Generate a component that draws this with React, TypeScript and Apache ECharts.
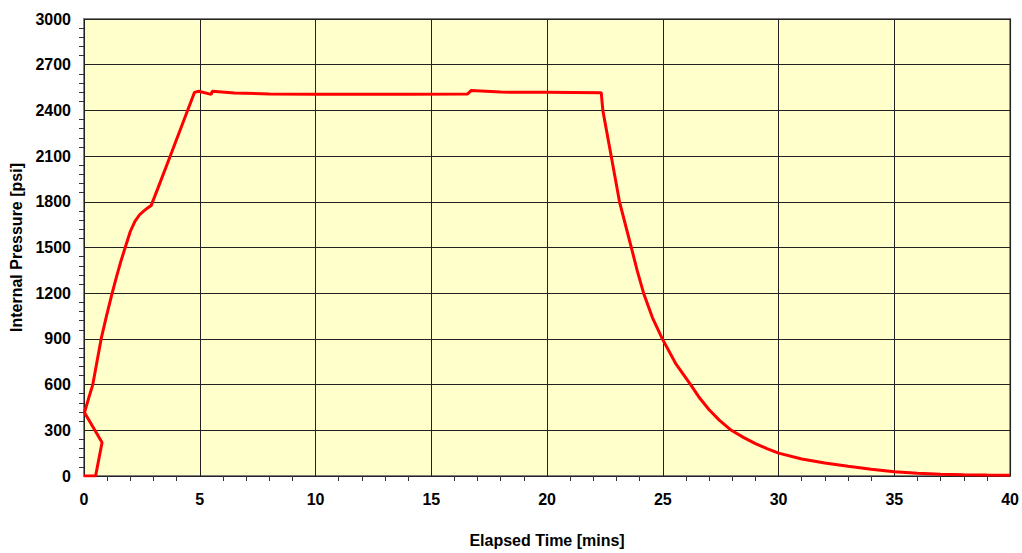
import React, { useEffect, useRef } from "react";
import * as echarts from "echarts";

const timeMins = [
  0, 0.5, 0.78, 0.02, 0.2, 0.38, 0.56, 0.74, 0.97, 1.2, 1.4, 1.6, 1.8, 2.0, 2.2, 2.4, 2.6, 2.75, 2.9,
  3.19, 3.8, 4.4, 4.77, 4.96, 5.49, 5.54, 6.5, 8, 10, 12, 14, 16.57, 16.73, 18, 20, 22.34,
  22.41, 22.77, 23.13, 23.64, 23.9, 24.17, 24.55, 24.98, 25.55, 26.2, 26.6, 27.0, 27.45, 27.96, 28.5, 29, 29.5, 30,
  31, 32, 33, 34, 35, 36, 37, 38, 39, 40,
];
const pressurePsi = [
  0, 0, 220, 417, 510, 600, 750, 900, 1050, 1190, 1305, 1413, 1510, 1605, 1672, 1715, 1742, 1760, 1775,
  1888, 2130, 2370, 2518, 2526, 2505, 2526, 2515, 2508, 2506, 2506, 2506, 2508, 2531, 2520, 2519, 2516,
  2400, 2100, 1800, 1500, 1345, 1200, 1040, 900, 740, 600, 510, 435, 365, 300, 252, 213, 180, 150,
  112, 86, 64, 44, 28, 18, 12, 8, 6, 5,
];

const xTicks = { min: 0, max: 40, interval: 5 };
const yTicks = { min: 0, max: 3000, interval: 300 };

export default function App() {
  const ref = useRef<HTMLDivElement>(null);
  useEffect(() => {
    if (!ref.current) return;
    document.body.style.margin = "0";
    const chart = echarts.init(ref.current, undefined, { renderer: "svg" });
    const labelFont = {
      color: "#000",
      fontFamily: "Liberation Sans, Arial, sans-serif",
      fontWeight: "bold" as const,
      fontSize: 16,
    };
    chart.setOption({
      animation: false,
      backgroundColor: "#fff",
      grid: {
        left: 84,
        right: 11.5,
        top: 19,
        bottom: 76,
        show: true,
        backgroundColor: "#FFFFCC",
        borderColor: "#808080",
        borderWidth: 2,
        containLabel: false,
      },
      xAxis: {
        type: "value",
        min: xTicks.min,
        max: xTicks.max,
        interval: xTicks.interval,
        name: "Elapsed Time [mins]",
        nameLocation: "middle",
        nameGap: 56,
        nameTextStyle: { ...labelFont },
        axisLine: { show: false },
        axisTick: { show: false },
        minorTick: { show: true, splitNumber: 5, length: 5, lineStyle: { color: "#333", width: 1 } },
        axisLabel: { ...labelFont, margin: 15, formatter: (v: number) => String(v) },
        splitLine: { show: true, lineStyle: { color: "#222", width: 1 } },
      },
      yAxis: {
        type: "value",
        min: yTicks.min,
        max: yTicks.max,
        interval: yTicks.interval,
        name: "Internal Pressure [psi]",
        nameLocation: "middle",
        nameGap: 58,
        nameTextStyle: { ...labelFont },
        axisLine: { show: false },
        axisTick: { show: false },
        minorTick: { show: true, splitNumber: 5, length: 5, lineStyle: { color: "#333", width: 1 } },
        axisLabel: { ...labelFont, margin: 13, formatter: (v: number) => String(v) },
        splitLine: { show: true, lineStyle: { color: "#222", width: 1 } },
      },
      series: [
        {
          type: "line",
          data: timeMins.map((t, i) => [t, pressurePsi[i]]),
          showSymbol: false,
          symbol: "none",
          smooth: false,
          lineStyle: { color: "#FF0000", width: 3 },
          z: 5,
        },
      ],
    });
    return () => chart.dispose();
  }, []);
  return <div ref={ref} style={{ width: 1022, height: 553 }} />;
}
